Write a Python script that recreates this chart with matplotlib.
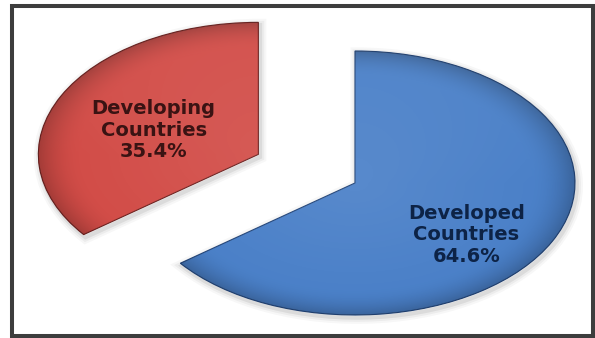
import numpy as np
import matplotlib
matplotlib.use("Agg")
import matplotlib.pyplot as plt
from matplotlib.patches import Rectangle, Wedge

# share of total, two groups
LABELS = ["Developing\nCountries", "Developed\nCountries"]
SHARES = [35.4, 64.6]
COLORS = ["#d24c47", "#4a80c8"]
EDGES = ["#6e2220", "#24467a"]
TEXT_COLORS = ["#3a1313", "#0d2346"]
EXPLODE = [0.49, 0.0]
# label placement: (distance, angle in deg) from each slice's apex
LABEL_POS = [(0.51, 159.0), (0.64, -37.7)]

W, H = 595, 338
# pie is squashed: x radius 220 px, y radius 132 px, centred at (355, 183)
RX, RY, CX, CY = 220.0, 132.0, 355.0, 183.0

fig = plt.figure(figsize=(W / 100, H / 100), dpi=100)
ax = fig.add_axes([0, 0, 1, 1])

wedges, _ = ax.pie(SHARES, explode=EXPLODE, colors=COLORS, startangle=90,
                   counterclock=True,
                   wedgeprops=dict(linewidth=0.8))
ax.set_aspect("auto")
xlim = (-CX / RX, (W - CX) / RX)
ylim = (-(H - CY) / RY, CY / RY)
ax.set_xlim(*xlim); ax.set_ylim(*ylim)
ax.axis("off")

# soft drop shadow + bevel-ish shading clipped to each slice
xs = np.linspace(*xlim, 600)
ys = np.linspace(*ylim, 340)
gx, gy = np.meshgrid(xs, ys)
for w, ec in zip(wedges, EDGES):
    cx, cy = w.center
    w.set_edgecolor(ec)
    w.set_zorder(3)
    for lw, a in ((9, 0.03), (6, 0.045), (3, 0.07)):
        ax.add_patch(Wedge((cx + 0.008, cy - 0.02), w.r, w.theta1, w.theta2,
                           facecolor="none", edgecolor="black", linewidth=lw,
                           alpha=a, zorder=1))

    r = np.hypot(gx - cx, gy - cy)
    rim = np.clip((r - 0.8) / 0.2, 0, 1) ** 2
    glow = np.clip(1 - r / 0.9, 0, 1)
    top = np.clip((gy - cy) / 1.0, 0, 1)
    shade = np.zeros(gx.shape + (4,))
    # dark rim near the curved edge, faint light toward the top
    alpha = 0.22 * rim
    light = 0.08 * glow + 0.06 * top
    shade[..., :3] = (light / np.maximum(alpha + light, 1e-6))[..., None]
    shade[..., 3] = np.clip(alpha + light, 0, 1)
    im = ax.imshow(shade, extent=(*xlim, *ylim), origin="lower",
                   aspect="auto", zorder=4, interpolation="bilinear")
    im.set_clip_path(w)

for w, lab, val, tc, (d, ang) in zip(wedges, LABELS, SHARES, TEXT_COLORS, LABEL_POS):
    cx, cy = w.center
    t = np.deg2rad(ang)
    ax.text(cx + d * np.cos(t), cy + d * np.sin(t), f"{lab}\n{val:.1f}%",
            ha="center", va="center", fontsize=14, fontweight="bold",
            color=tc, linespacing=1.16, family="DejaVu Sans", zorder=5)

ax.set_xlim(*xlim); ax.set_ylim(*ylim)

# dark picture frame
fig.patches.append(Rectangle((12 / W, 2 / H), 581 / W, 330 / H,
                             transform=fig.transFigure, fill=False,
                             edgecolor="#3d3d3d", linewidth=2.9))

fig.savefig("out.png", dpi=100, facecolor="white")
